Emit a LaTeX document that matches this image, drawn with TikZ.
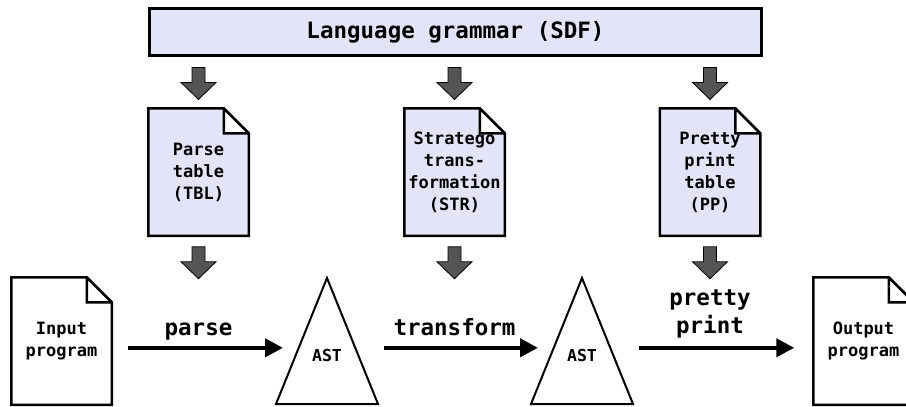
\documentclass[tikz,border=0pt]{standalone}
\usepackage{fontspec}
\setmonofont{DejaVu Sans Mono}
\usetikzlibrary{arrows.meta,backgrounds}
\definecolor{docfill}{HTML}{E4E4F8}
\definecolor{fatgray}{HTML}{555555}

\tikzset{
  docnode/.style={minimum width=100.5pt,minimum height=127.5pt,inner sep=0pt,outer sep=0pt,align=center,
    font=\ttfamily\bfseries\fontsize{17}{22}\selectfont},
  docline/.style={line width=2.5pt,line join=miter},
  flowarrow/.style={line width=4pt,-{Triangle[length=18pt,width=18pt]}},
  flowlabel/.style={font=\ttfamily\bfseries\fontsize{22.5}{28}\selectfont,align=center},
  astlabel/.style={minimum height=14pt,inner sep=0pt,font=\ttfamily\bfseries\fontsize{16.5}{20}\selectfont},
  treeline/.style={line width=2pt,line join=miter},
  fatarrow/.pic={\filldraw[fill=fatgray,draw=black,line width=0.8pt] (-6.5,0) -- (6.5,0) -- (6.5,15) -- (17.5,15) -- (0,32) -- (-17.5,15) -- (-6.5,15) -- cycle;}
}

\begin{document}
\begin{tikzpicture}[x=1pt,y=-1pt]
    \useasboundingbox (0,0) rectangle (906,407);
    \node[draw,line width=3pt,fill=docfill,minimum width=612pt,minimum height=47pt,outer sep=0pt,flowlabel] (sdf) at (455.5,32) {Language grammar (SDF)};
    \node[docnode] (tbl) at (198.5,172) {Parse\\table\\(TBL)};
    \node[docnode] (str) at (454.5,172) {Stratego\\trans-\\formation\\(STR)};
    \node[docnode] (pp) at (710,172) {Pretty\\print\\table\\(PP)};
    \node[docnode] (input) at (61.5,341) {Input\\program};
    \node[docnode] (output) at (863.5,341) {Output\\program};
    \node[astlabel] (ast1) at (327,355) {AST};
    \node[astlabel] (ast2) at (582,355) {AST};
    \begin{scope}[on background layer]
        \foreach \d/\c in {tbl/docfill,str/docfill,pp/docfill,input/white,output/white}
            \filldraw[docline,fill=\c] (\d.south west) -- (\d.north west) -- ([xshift=-25pt]\d.north east) -- ([yshift=-25pt]\d.north east) -- (\d.south east) -- cycle
                ([xshift=-25pt]\d.north east) -- ([xshift=-25pt,yshift=-25pt]\d.north east) -- ([yshift=-25pt]\d.north east);
    \end{scope}
    \foreach \a in {ast1,ast2}
        \draw[treeline] ([yshift=77pt]\a.center) -- ([xshift=51pt,yshift=-49pt]\a.center) -- ([xshift=-51pt,yshift=-49pt]\a.center) -- cycle;
    \foreach \d in {tbl,str,pp} {
        \pic (in\d) at ([yshift=-12pt]sdf.south -| \d.north) {fatarrow};
        \pic (out\d) at ([yshift=-11pt]\d.south) {fatarrow};
    }
    \draw[flowarrow] ([xshift=16pt]input.east |- ast1.north) -- ([xshift=-44pt]ast1.north);
    \draw[flowarrow] ([xshift=57pt]ast1.north) -- ([xshift=-44pt]ast2.north);
    \draw[flowarrow] ([xshift=57pt]ast2.north) -- ([xshift=-19pt]output.west |- ast2.north);
    \node[flowlabel,anchor=base] (parselbl) at ([yshift=12pt]ast1.north -| tbl.south) {parse};
    \node[flowlabel,anchor=base] (translbl) at ([yshift=12pt]ast1.north -| str.south) {transform};
    \node[flowlabel,anchor=south] (pplbl) at ([yshift=6pt]ast2.north -| pp.south) {pretty\\print};
\end{tikzpicture}
\end{document}
